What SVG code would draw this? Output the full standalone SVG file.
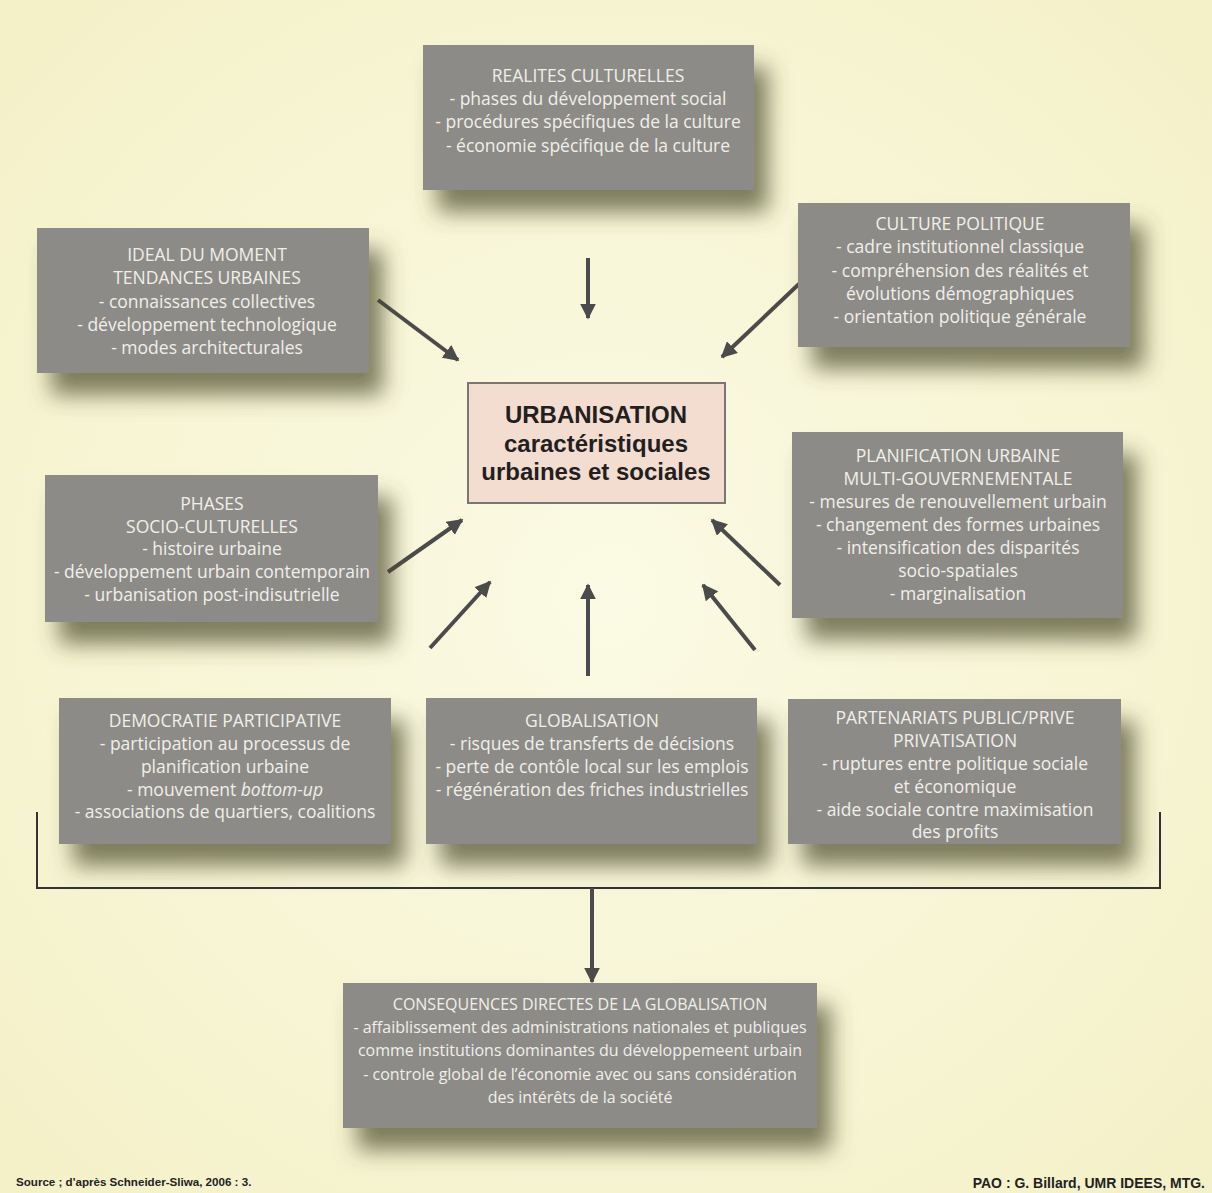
<svg xmlns="http://www.w3.org/2000/svg" width="1212" height="1193" viewBox="0 0 1212 1193">
<defs>
<radialGradient id="bg" cx="50%" cy="50%" r="70%">
<stop offset="0" stop-color="#fbfae4"/>
<stop offset="1" stop-color="#f4f1c8"/>
</radialGradient>
<filter id="sh" x="-20%" y="-20%" width="150%" height="170%">
<feDropShadow dx="14" dy="22" stdDeviation="11" flood-color="#48482c" flood-opacity="0.7"/>
</filter>
<marker id="ah" viewBox="0 0 10 10" refX="9" refY="5" markerWidth="4" markerHeight="4" orient="auto" markerUnits="strokeWidth">
<path d="M0,0 L10,5 L0,10 z" fill="#4b4b4b"/>
</marker>
<style>
.box{fill:#8d8b87;filter:url(#sh)}
.t{font-family:"Open Sans","Liberation Sans",sans-serif;font-size:17.5px;fill:#f0efea;text-anchor:middle}
.s{font-size:16px}
.c{font-family:"Liberation Sans",Arial,sans-serif;font-weight:bold;font-size:24px;fill:#231f20;text-anchor:middle}
.a{stroke:#4b4b4b;stroke-width:4;fill:none;marker-end:url(#ah)}
.f{font-family:"Liberation Sans",Arial,sans-serif;font-weight:bold;font-size:11.6px;fill:#222}
.f2{font-size:14px;text-anchor:end}
</style>
</defs>
<rect width="1212" height="1193" fill="url(#bg)"/>

<g id="connectors">
<line class="a" x1="588" y1="258" x2="588" y2="318"/>
<line class="a" x1="378" y1="300" x2="458" y2="360"/>
<line class="a" x1="800" y1="283" x2="722" y2="357"/>
<line class="a" x1="388" y1="572" x2="462" y2="520"/>
<line class="a" x1="780" y1="585" x2="712" y2="520"/>
<line class="a" x1="430" y1="648" x2="490" y2="582"/>
<line class="a" x1="588" y1="676" x2="588" y2="585"/>
<line class="a" x1="755" y1="650" x2="703" y2="585"/>
<path d="M37,812 V888 H1160 V812" stroke="#333" stroke-width="2" fill="none"/>
<line class="a" x1="592" y1="888" x2="592" y2="982"/>
</g>

<g id="realites">
<rect class="box" x="423" y="45" width="331" height="145"/>
<text class="t" x="588" y="82">REALITES CULTURELLES</text>
<text class="t" x="588" y="105">- phases du développement  social</text>
<text class="t" x="588" y="128">- procédures spécifiques de la culture</text>
<text class="t" x="588" y="152">- économie spécifique de la culture</text>
</g>

<g id="ideal">
<rect class="box" x="37" y="228" width="332" height="145"/>
<text class="t" x="207" y="261">IDEAL DU MOMENT</text>
<text class="t" x="207" y="284">TENDANCES URBAINES</text>
<text class="t" x="207" y="308">- connaissances collectives</text>
<text class="t" x="207" y="331">- développement technologique</text>
<text class="t" x="207" y="354">- modes architecturales</text>
</g>

<g id="culture">
<rect class="box" x="798" y="203" width="332" height="144"/>
<text class="t" x="960" y="230">CULTURE POLITIQUE</text>
<text class="t" x="960" y="253">- cadre institutionnel classique</text>
<text class="t" x="960" y="277">-  compréhension des réalités et</text>
<text class="t" x="960" y="300">évolutions démographiques</text>
<text class="t" x="960" y="323">- orientation politique générale</text>
</g>

<g id="urbanisation">
<rect x="468" y="383" width="257" height="120" fill="#f3dcd0" stroke="#7a7675" stroke-width="2"/>
<text class="c" x="596" y="423">URBANISATION</text>
<text class="c" x="596" y="452">caractéristiques</text>
<text class="c" x="596" y="480">urbaines et sociales</text>
</g>

<g id="phases">
<rect class="box" x="45" y="475" width="333" height="147"/>
<text class="t" x="212" y="510">PHASES</text>
<text class="t" x="212" y="533">SOCIO-CULTURELLES</text>
<text class="t" x="212" y="555">- histoire urbaine</text>
<text class="t" x="212" y="578">- développement urbain contemporain</text>
<text class="t" x="212" y="601">- urbanisation post-indisutrielle</text>
</g>

<g id="planification">
<rect class="box" x="792" y="432" width="331" height="186"/>
<text class="t" x="958" y="462">PLANIFICATION URBAINE</text>
<text class="t" x="958" y="485">MULTI-GOUVERNEMENTALE</text>
<text class="t" x="958" y="508">- mesures de renouvellement urbain</text>
<text class="t" x="958" y="531">- changement des formes urbaines</text>
<text class="t" x="958" y="554">- intensification des disparités</text>
<text class="t" x="958" y="577">socio-spatiales</text>
<text class="t" x="958" y="600">- marginalisation</text>
</g>

<g id="democratie">
<rect class="box" x="59" y="698" width="332" height="146"/>
<text class="t" x="225" y="727">DEMOCRATIE PARTICIPATIVE</text>
<text class="t" x="225" y="750">- participation au processus de</text>
<text class="t" x="225" y="773">planification urbaine</text>
<text class="t" x="225" y="796">- mouvement <tspan font-style="italic">bottom-up</tspan></text>
<text class="t" x="225" y="818">- associations de quartiers, coalitions</text>
</g>

<g id="globalisation">
<rect class="box" x="426" y="698" width="331" height="146"/>
<text class="t" x="592" y="727">GLOBALISATION</text>
<text class="t" x="592" y="750">- risques de transferts de décisions</text>
<text class="t" x="592" y="773">-  perte de contôle local sur les emplois</text>
<text class="t" x="592" y="796">- régénération des friches industrielles</text>
</g>

<g id="partenariats">
<rect class="box" x="788" y="699" width="333" height="145"/>
<text class="t" x="955" y="724">PARTENARIATS PUBLIC/PRIVE</text>
<text class="t" x="955" y="747">PRIVATISATION</text>
<text class="t" x="955" y="770">-  ruptures entre politique sociale</text>
<text class="t" x="955" y="793">et économique</text>
<text class="t" x="955" y="816">- aide sociale contre maximisation</text>
<text class="t" x="955" y="838">des profits</text>
</g>

<g id="consequences">
<rect class="box" x="343" y="983" width="474" height="145"/>
<text class="t s" x="580" y="1010">CONSEQUENCES DIRECTES DE LA GLOBALISATION</text>
<text class="t s" x="580" y="1033">- affaiblissement des administrations nationales et publiques</text>
<text class="t s" x="580" y="1056">comme institutions dominantes du développemeent urbain</text>
<text class="t s" x="580" y="1080">-  controle global de l’économie avec ou sans considération</text>
<text class="t s" x="580" y="1103">des intérêts de la société</text>
</g>

<text class="f" x="16" y="1186">Source ; d'après Schneider-Sliwa, 2006 : 3.</text>
<text class="f f2" x="1205" y="1188">PAO : G. Billard, UMR IDEES, MTG.</text>
</svg>
